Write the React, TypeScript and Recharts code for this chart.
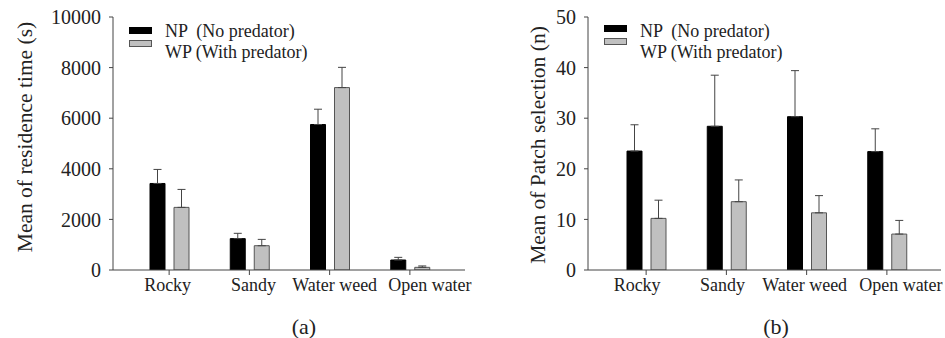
import { BarChart, Bar, XAxis, YAxis, ErrorBar, Label } from 'recharts';

const categories = ['Rocky', 'Sandy', 'Water weed', 'Open water'];

// (a) residence time, seconds
const residenceNP = [3420, 1240, 5750, 395];
const residenceNPErr = [555, 210, 605, 105];
const residenceWP = [2475, 960, 7210, 105];
const residenceWPErr = [710, 250, 800, 55];
const residenceTicks = [0, 2000, 4000, 6000, 8000, 10000];

// (b) patch selection, counts
const patchNP = [23.5, 28.4, 30.3, 23.4];
const patchNPErr = [5.2, 10.1, 9.1, 4.5];
const patchWP = [10.2, 13.5, 11.3, 7.1];
const patchWPErr = [3.6, 4.3, 3.4, 2.7];
const patchTicks = [0, 10, 20, 30, 40, 50];

const FONT = '"Liberation Serif", "Times New Roman", serif';
const AXIS = '#444';
const GRAY = '#c0c0c0';

// category labels in the original sit a little off their tick marks
const labelShiftA = [-1.5, 4, 5, 20];
const labelShiftB = [-9, -4, -2, 14];

function buildRows(np: number[], npErr: number[], wp: number[], wpErr: number[]) {
  return categories.map((name, i) => ({
    name,
    np: np[i],
    npErr: [0, npErr[i]],
    wp: wp[i],
    wpErr: [0, wpErr[i]],
  }));
}

interface PanelProps {
  rows: ReturnType<typeof buildRows>;
  ticks: number[];
  yLabel: string;
  caption: string;
  captionX: number;
  left: number;
  width: number;
  marginRight: number;
  axisWidth: number;
  labelX: number;
  labelY: number;
  padLeft: number;
  padRight: number;
  swatchTop: number;
  labelShift: number[];
}

function Legend2({ top, left }: { top: number; left: number }) {
  const text = {
    position: 'absolute' as const,
    left: left + 36,
    fontFamily: FONT,
    fontSize: 18,
    color: '#222',
    whiteSpace: 'pre' as const,
    lineHeight: '20px',
  };
  return (
    <>
      <div style={{ position: 'absolute', left, top, width: 23, height: 7, background: '#000' }} />
      <div style={{ position: 'absolute', left, top: top + 13, width: 21, height: 5, background: GRAY, border: '1px solid #555' }} />
      <div style={{ ...text, top: 21 }}>NP  (No predator)</div>
      <div style={{ ...text, top: 42 }}>WP (With predator)</div>
    </>
  );
}

function Panel(p: PanelProps) {
  const max = p.ticks[p.ticks.length - 1];
  const tickStyle = { fontFamily: FONT, fontSize: 20, fill: '#222' };
  const renderCategory = (props: any) => (
    <text
      x={props.x + p.labelShift[props.index]}
      y={props.y}
      dy="0.71em"
      textAnchor="middle"
      fontFamily={FONT}
      fontSize={18}
      fill="#222"
    >
      {props.payload.value}
    </text>
  );
  return (
    <div style={{ position: 'absolute', left: p.left, top: 0, width: p.width, height: 338 }}>
      <BarChart
        width={p.width}
        height={300}
        data={p.rows}
        margin={{ top: 17, right: p.marginRight, bottom: 0, left: 0 }}
        barSize={15}
        barGap={9}
      >
        <XAxis
          dataKey="name"
          height={30}
          padding={{ left: p.padLeft, right: p.padRight }}
          stroke={AXIS}
          tickSize={5}
          tickMargin={3}
          tick={renderCategory}
          interval={0}
        />
        <XAxis xAxisId="top" dataKey="name" orientation="top" height={0} stroke={AXIS} tick={false} tickLine={false} />
        <YAxis
          domain={[0, max]}
          ticks={p.ticks}
          width={p.axisWidth}
          stroke={AXIS}
          tickSize={4}
          tickMargin={8}
          tick={tickStyle}
          allowDataOverflow
        >
          <Label
            content={() => (
              <text
                x={p.labelX}
                y={p.labelY}
                transform={`rotate(-90 ${p.labelX} ${p.labelY})`}
                textAnchor="middle"
                dominantBaseline="central"
                fontFamily={FONT}
                fontSize={21.5}
                fill="#222"
              >
                {p.yLabel}
              </text>
            )}
          />
        </YAxis>
        <YAxis yAxisId="right" orientation="right" width={0} domain={[0, max]} stroke={AXIS} tick={false} tickLine={false} />
        <Bar dataKey="np" fill="#000" stroke="#000" strokeWidth={1} isAnimationActive={false}>
          <ErrorBar dataKey="npErr" width={4} stroke="#444" strokeWidth={1} direction="y" />
        </Bar>
        <Bar dataKey="wp" fill={GRAY} stroke="#555" strokeWidth={1} isAnimationActive={false}>
          <ErrorBar dataKey="wpErr" width={4} stroke="#444" strokeWidth={1} direction="y" />
        </Bar>
      </BarChart>
      <Legend2 top={p.swatchTop} left={p.axisWidth + 16} />
      <div
        style={{
          position: 'absolute',
          top: 314,
          left: p.captionX - 50,
          width: 100,
          textAlign: 'center',
          fontFamily: FONT,
          fontSize: 22,
          color: '#222',
        }}
      >
        {p.caption}
      </div>
    </div>
  );
}

export default function App() {
  const residenceRows = buildRows(residenceNP, residenceNPErr, residenceWP, residenceWPErr);
  const patchRows = buildRows(patchNP, patchNPErr, patchWP, patchWPErr);
  return (
    <div style={{ position: 'absolute', left: 0, top: 0, width: 945, height: 338, background: '#fff', overflow: 'hidden' }}>
      <Panel
        rows={residenceRows}
        ticks={residenceTicks}
        yLabel="Mean of residence time (s)"
        caption="(a)"
        captionX={304}
        left={0}
        width={475}
        marginRight={10}
        axisWidth={113}
        labelX={25}
        labelY={137}
        padLeft={16}
        padRight={15}
        swatchTop={27}
        labelShift={labelShiftA}
      />
      <Panel
        rows={patchRows}
        ticks={patchTicks}
        yLabel="Mean of Patch selection (n)"
        caption="(b)"
        captionX={301}
        left={475}
        width={470}
        marginRight={4}
        axisWidth={113}
        labelX={63}
        labelY={145}
        padLeft={18}
        padRight={14}
        swatchTop={25}
        labelShift={labelShiftB}
      />
    </div>
  );
}
